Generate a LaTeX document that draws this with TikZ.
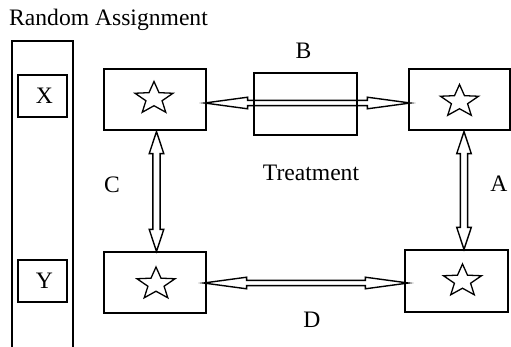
\documentclass[tikz,border=0pt]{standalone}
\usepackage{fontspec}
\setmainfont{Liberation Serif}
\usetikzlibrary{calc}
\tikzset{
  boxnode/.style={draw, line width=1.3pt, inner sep=0pt, font=\fontsize{23.6}{28}\selectfont},
  lbl/.style={inner sep=0pt, font=\fontsize{23.6}{28}\selectfont},
  arrowline/.style={draw, line width=1.4pt, line join=miter, miter limit=20},
  starpic/.pic={\draw[line width=1.3pt, line join=miter, yscale=0.85]
    (-90:20) -- (-54:8.5) -- (-18:20) -- (18:8.5) -- (54:20) -- (90:8.5)
    -- (126:20) -- (162:8.5) -- (198:20) -- (234:8.5) -- cycle;}
}
\begin{document}
\begin{tikzpicture}[x=1pt,y=-1pt]
\useasboundingbox (0,0) rectangle (511,346);
% random assignment column
\node[boxnode, minimum width=61pt, minimum height=307pt] (ra) at (42.5,194.5) {};
\node[lbl, anchor=base west] (title) at (9,25.5) {Random Assignment};
\node[boxnode, minimum width=49pt, minimum height=42pt] (xb) at (42.5,96) {\raisebox{-2pt}{\hspace{4pt}X}};
\node[boxnode, minimum width=49pt, minimum height=42pt] (yb) at (42.5,281) {\raisebox{-2pt}{\hspace{4pt}Y}};
% star boxes
\node[boxnode, minimum width=102pt, minimum height=61pt] (tl) at (155,99.5) {};
\node[boxnode, minimum width=101pt, minimum height=61pt] (tr) at (459.5,99.5) {};
\node[boxnode, minimum width=102pt, minimum height=61pt] (bl) at (155,282.5) {};
\node[boxnode, minimum width=103pt, minimum height=62pt] (br) at (456.5,281) {};
\node[boxnode, minimum width=103pt, minimum height=62pt] (mid) at (305.5,104) {};
\pic at ($(tl.center)+(-1,-1)$) {starpic};
\pic at ($(tr.center)+(0,2)$) {starpic};
\pic at ($(bl.center)+(1,1.5)$) {starpic};
\pic at ($(br.center)+(6,0)$) {starpic};
% labels
\node[lbl] (lb) at (303.5,51) {B};
\node[lbl] (lt) at (311,172.5) {Treatment};
\node[lbl] (lc) at (112,185) {C};
\node[lbl] (la) at (499,184) {A};
\node[lbl] (ld) at (312,320) {D};
% horizontal arrows
\path[arrowline] let \p1=($(tl.east)+(-2,3.5)$), \p2=($(tr.west)+(2,0)$) in
  (\x1,\y1) -- (\x1+43pt,\y1+5.8pt) -- (\x1+43pt,\y1+2.6pt) -- (\x2-43pt,\y1+2.6pt)
  -- (\x2-43pt,\y1+5.8pt) -- (\x2,\y1) -- (\x2-43pt,\y1-5.8pt) -- (\x2-43pt,\y1-2.6pt)
  -- (\x1+43pt,\y1-2.6pt) -- (\x1+43pt,\y1-5.8pt) -- cycle;
\path[arrowline] let \p1=($(bl.east)+(-3,0.5)$), \p2=($(br.west)+(4,0)$) in
  (\x1,\y1) -- (\x1+43pt,\y1+5.8pt) -- (\x1+43pt,\y1+2.6pt) -- (\x2-43pt,\y1+2.6pt)
  -- (\x2-43pt,\y1+5.8pt) -- (\x2,\y1) -- (\x2-43pt,\y1-5.8pt) -- (\x2-43pt,\y1-2.6pt)
  -- (\x1+43pt,\y1-2.6pt) -- (\x1+43pt,\y1-5.8pt) -- cycle;
% vertical arrows
\path[arrowline] let \p1=($(tl.south)+(1.5,1)$), \p2=(bl.north) in
  (\x1,\y1) -- (\x1+7.3pt,\y1-22pt) -- (\x1+3.6pt,\y1-22pt) -- (\x1+3.6pt,\y2+22pt)
  -- (\x1+7.3pt,\y2+22pt) -- (\x1,\y2) -- (\x1-7.3pt,\y2+22pt) -- (\x1-3.6pt,\y2+22pt)
  -- (\x1-3.6pt,\y1-22pt) -- (\x1-7.3pt,\y1-22pt) -- cycle;
\path[arrowline] let \p1=($(tr.south)+(4.5,1)$), \p2=(br.north) in
  (\x1,\y1) -- (\x1+7.3pt,\y1-22pt) -- (\x1+3.6pt,\y1-22pt) -- (\x1+3.6pt,\y2+22pt)
  -- (\x1+7.3pt,\y2+22pt) -- (\x1,\y2) -- (\x1-7.3pt,\y2+22pt) -- (\x1-3.6pt,\y2+22pt)
  -- (\x1-3.6pt,\y1-22pt) -- (\x1-7.3pt,\y1-22pt) -- cycle;
\end{tikzpicture}
\end{document}
